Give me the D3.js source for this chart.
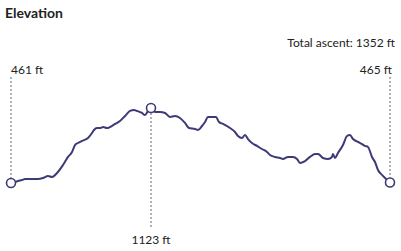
<!DOCTYPE html>
<html><head><meta charset="utf-8">
<script src="https://cdn.jsdelivr.net/npm/d3@7"></script>
<style>
body{margin:0;background:#fff;}
text{font-family:Lato,"Open Sans",sans-serif;fill:#222;}
</style></head>
<body><svg id="c" width="401" height="251"></svg>
<script>
const title = "Elevation";
const ascentLabel = "Total ascent: 1352 ft";
const unit = "ft";
const distance = [0,0.08,0.14,0.22,0.28,0.42,0.54,0.64,0.74,0.82,0.92,1.04,1.14,1.22,1.28,1.34,1.42,1.54,1.62,1.66,1.72,1.78,1.84,1.92,1.98,2.08,2.18,2.28,2.38,2.46,2.52,2.62,2.68,2.74,2.80,2.88,2.98,3.08,3.18,3.28,3.38,3.48,3.56,3.68,3.74,3.82,3.88,3.94,4.02,4.10,4.16,4.24,4.38,4.48,4.54,4.62,4.68,4.74,4.82,4.92,5.02,5.12,5.18,5.28,5.38,5.44,5.54,5.64,5.72,5.78,5.88,5.98,6.08,6.14,6.24,6.34,6.42,6.44,6.48,6.54,6.64,6.72,6.78,6.84,6.94,7.02,7.08,7.14,7.22,7.28,7.34,7.42,7.48,7.58];
const elevation = [461,470,479,487,496,496,496,505,523,514,549,620,691,735,796,814,832,858,902,929,946,946,955,946,955,982,1008,1052,1097,1105,1097,1079,1061,1097,1123,1088,1088,1079,1044,1052,1035,991,946,938,929,964,999,1044,1044,1044,999,982,946,911,876,858,885,849,814,788,761,735,708,691,682,673,691,691,673,638,655,691,717,717,682,673,691,717,682,726,796,876,885,849,823,805,788,779,691,646,576,532,505,465];

const svg = d3.select("#c");
const color = "#3d3a78";
const x = d3.scaleLinear().domain(d3.extent(distance)).range([11, 390]);
const y = d3.scaleLinear().domain([461, 1123]).range([183, 108]);
const pts = distance.map((d,i)=>({d, e: elevation[i]}));

svg.append("text").attr("x",5).attr("y",18).attr("font-size",14).attr("font-weight",700).text(title);
svg.append("text").attr("x",395).attr("y",47).attr("font-size",12).attr("text-anchor","end").text(ascentLabel);

const first = pts[0], last = pts[pts.length-1];
const peakIdx = d3.maxIndex(pts, p=>p.e), peak = pts[peakIdx];

const guide = (x1,y1,y2)=>svg.append("line").attr("x1",x1).attr("x2",x1).attr("y1",y1).attr("y2",y2)
  .attr("stroke","#999").attr("stroke-width",1.5).attr("stroke-dasharray","2,2");
guide(x(first.d), 77, y(first.e)-5);
guide(x(last.d), 77, y(last.e)-5);
guide(x(peak.d), y(peak.e)+5, 228);

svg.append("path").datum(pts)
  .attr("d", d3.line().x(p=>x(p.d)).y(p=>y(p.e)).curve(d3.curveMonotoneX))
  .attr("fill","none").attr("stroke",color).attr("stroke-width",2).attr("stroke-linejoin","round");

[first, peak, last].forEach(p=>{
  svg.append("circle").attr("cx",x(p.d)).attr("cy",y(p.e)).attr("r",4.5)
    .attr("fill","#fff").attr("stroke",color).attr("stroke-width",1.6);
});

svg.append("text").attr("x",x(first.d)).attr("y",74).attr("font-size",12).text(first.e+" "+unit);
svg.append("text").attr("x",x(last.d)+2).attr("y",74).attr("font-size",12).attr("text-anchor","end").text(last.e+" "+unit);
svg.append("text").attr("x",x(peak.d)).attr("y",244).attr("font-size",12).attr("text-anchor","middle").text(peak.e+" "+unit);
</script></body></html>
